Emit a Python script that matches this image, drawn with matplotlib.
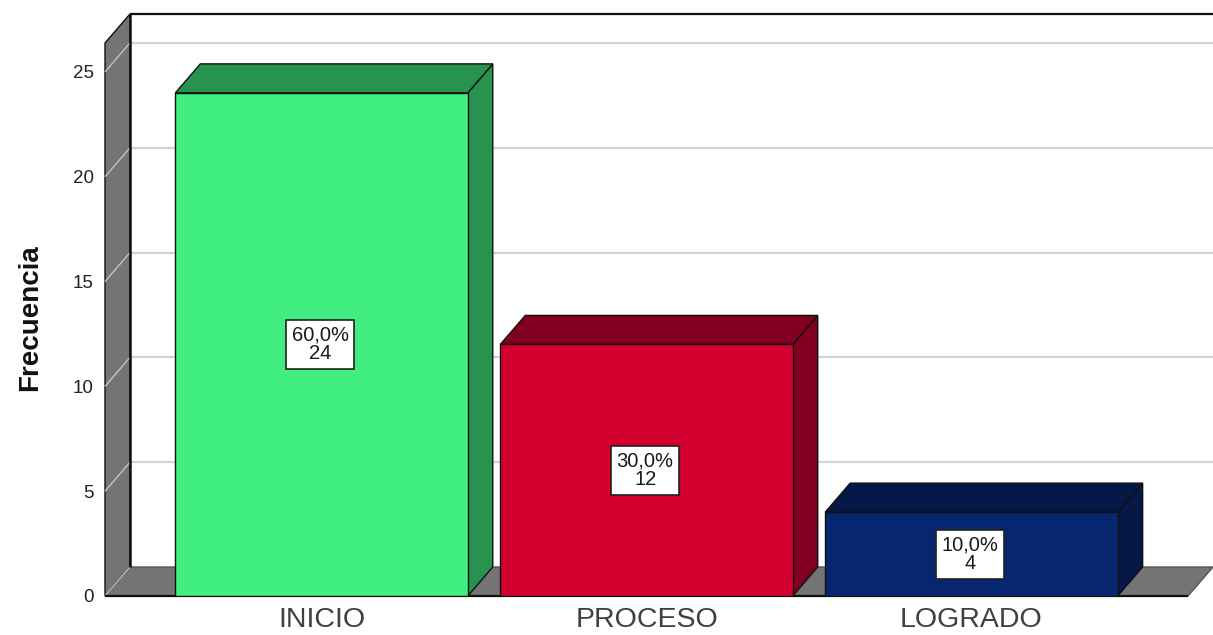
import matplotlib
matplotlib.use("Agg")
import matplotlib.pyplot as plt
from matplotlib.patches import Polygon

plt.rcParams["font.family"] = ["Liberation Sans", "DejaVu Sans"]

categories = ["INICIO", "PROCESO", "LOGRADO"]
frequencies = [24, 12, 4]
percent_labels = ["60,0%", "30,0%", "10,0%"]
y_ticks = [0, 5, 10, 15, 20, 25]

front_colors = ["#41EE80", "#D3002F", "#06276F"]
top_colors = ["#27934F", "#82001F", "#051848"]
side_colors = ["#27934F", "#82001F", "#051848"]
WALL = "#747474"
GRID = "#D2D2D2"
EDGE = "#101010"

W, H = 1213, 635
fig = plt.figure(figsize=(W / 100, H / 100), dpi=100, facecolor="white")
ax = fig.add_axes([105 / W, (H - 596) / H, 1083 / W, 553 / H])

xmin, xmax = -0.6665, 2.6665
ymax = 26.38
ax.set_xlim(xmin, xmax)
ax.set_ylim(0, ymax)
for s in ax.spines.values():
    s.set_visible(False)

# Oblique offset of the box depth, in data units
dx = 25 / 325
dy = 29 / 20.96
bar_width = 0.9


def face(points, color, z, edge=EDGE, lw=1.0):
    ax.add_patch(Polygon(points, closed=True, facecolor=color, edgecolor=edge,
                         linewidth=lw, zorder=z, clip_on=False))


def segment(xs, ys, color, lw, z):
    ax.plot(xs, ys, color=color, lw=lw, zorder=z, clip_on=False,
            solid_capstyle="butt")


# Floor and left wall of the chart box
face([(xmin, 0), (xmin + dx, dy), (xmax + dx, dy), (xmax, 0)], WALL, 1, edge="#555555")
face([(xmin, 0), (xmin, ymax), (xmin + dx, ymax + dy), (xmin + dx, dy)], WALL, 1)

# Gridlines run across the back wall and fold down the left wall
for t in y_ticks:
    if t > 0:
        segment([xmin + dx, xmax + dx], [t + dy, t + dy], GRID, 1.6, 2)
    segment([xmin, xmin + dx], [t, t + dy], "#C4C4C4", 1.0, 2)

# Back wall borders
segment([xmin + dx, xmin + dx], [dy, ymax + dy], EDGE, 1.8, 3)
segment([xmin + dx, xmax + dx], [ymax + dy, ymax + dy], EDGE, 1.6, 3)
segment([xmin, xmax], [0, 0], EDGE, 1.6, 3)

# Bars: front, top and side faces
for i, v in enumerate(frequencies):
    x0, x1 = i - bar_width / 2, i + bar_width / 2
    face([(x1, 0), (x1 + dx, dy), (x1 + dx, v + dy), (x1, v)], side_colors[i], 4)
    face([(x0, v), (x0 + dx, v + dy), (x1 + dx, v + dy), (x1, v)], top_colors[i], 4)
    ax.bar(i, v, width=bar_width, color=front_colors[i], edgecolor=EDGE,
           linewidth=1.0, zorder=5)
    ax.text(i - 0.004, v / 2, f"{percent_labels[i]}\n{v}", ha="center", va="center",
            fontsize=14.5, linespacing=1.0, color="#1A1A1A", zorder=6,
            bbox=dict(boxstyle="square,pad=0.27", facecolor="white",
                      edgecolor="#202020", linewidth=1.2))

ax.set_xticks(range(len(categories)), categories)
ax.set_yticks(y_ticks)
ax.tick_params(axis="both", length=0)
ax.tick_params(axis="x", labelsize=20.5, labelcolor="#404040", pad=8)
ax.tick_params(axis="y", labelsize=13.5, labelcolor="#222222", pad=8)
fig.text(30 / W, (H - 318) / H, "Frecuencia", rotation=90, ha="center", va="center",
         fontsize=20, fontweight="bold", color="#111111")

fig.savefig("out.png", dpi=100, facecolor="white")
